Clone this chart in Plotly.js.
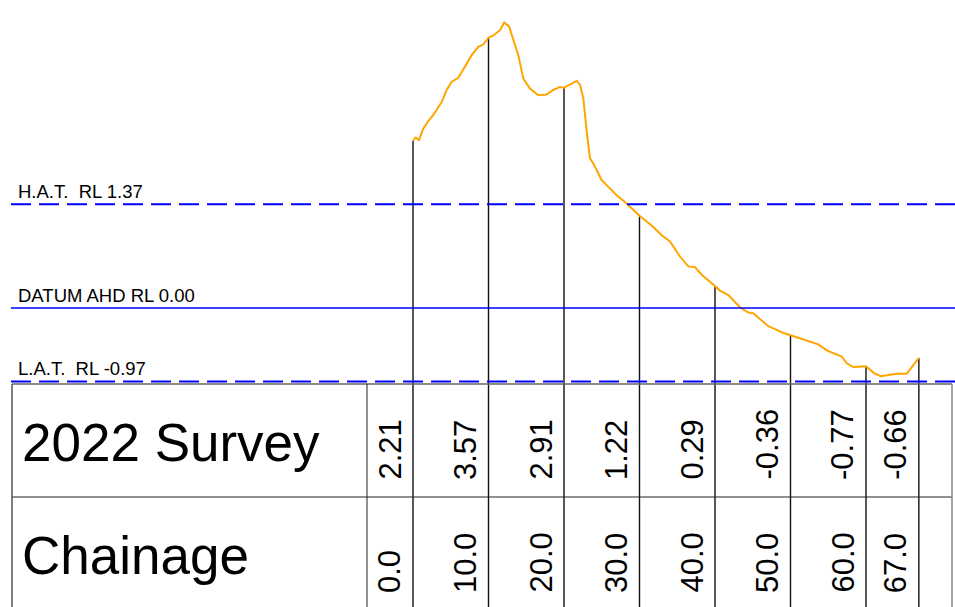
<!DOCTYPE html>
<html>
<head>
<meta charset="utf-8">
<script src="https://cdn.plot.ly/plotly-3.0.1.min.js"></script>
<style>html,body{margin:0;padding:0;background:#fff;}#chart{width:955px;height:607px;}</style>
</head>
<body>
<div id="chart"></div>
<script>
// ---- data ----
const chainage = [0, 10, 20, 30, 40, 50, 60, 67];
const surveyRL = [2.21, 3.57, 2.91, 1.22, 0.29, -0.36, -0.77, -0.66];
const chainageLabels = ['0.0', '10.0', '20.0', '30.0', '40.0', '50.0', '60.0', '67.0'];
const surveyLabels = ['2.21', '3.57', '2.91', '1.22', '0.29', '-0.36', '-0.77', '-0.66'];
const rowLabels = ['2022 Survey', 'Chainage'];

const profileX = [0, 0.36, 0.79, 1.36, 2.03, 2.69, 3.80, 4.46, 5.13, 6.00, 6.89, 7.77, 8.65, 9.31, 10,
  10.64, 11.52, 12.09, 12.72, 13.28, 13.95, 14.61, 15.50, 16.60, 17.71, 18.58, 19.47, 20,
  20.79, 21.68, 22.12, 22.56, 23.01, 23.44, 23.88, 24.99, 25.87, 26.98, 28.30, 30,
  31.83, 32.94, 34.04, 35.36, 36.46, 37.35, 38.24, 39.11, 40,
  40.66, 41.76, 43.31, 44.41, 45.07, 47.06, 48.17, 49.05, 50,
  51.48, 52.81, 53.68, 54.79, 56.12, 56.78, 57.44, 58.32, 60,
  61.06, 61.95, 62.95, 64.07, 65.39, 67];
const profileRL = [2.21, 2.25, 2.22, 2.37, 2.47, 2.55, 2.72, 2.88, 2.99, 3.04, 3.19, 3.34, 3.45, 3.48, 3.57,
  3.60, 3.67, 3.77, 3.72, 3.54, 3.34, 3.03, 2.90, 2.81, 2.82, 2.88, 2.92, 2.91,
  2.95, 3.00, 2.95, 2.77, 2.33, 1.98, 1.91, 1.69, 1.60, 1.49, 1.38, 1.22,
  1.07, 0.96, 0.88, 0.68, 0.55, 0.54, 0.44, 0.37, 0.29,
  0.23, 0.17, 0.01, -0.06, -0.07, -0.24, -0.29, -0.33, -0.36,
  -0.41, -0.46, -0.48, -0.56, -0.62, -0.64, -0.73, -0.78, -0.77,
  -0.86, -0.90, -0.89, -0.87, -0.87, -0.66];

const levelValues = [1.37, 0.00, -0.97];
const levelLabels = ['H.A.T.\u00a0\u00a0RL 1.37', 'DATUM AHD RL 0.00', 'L.A.T.\u00a0\u00a0RL -0.97'];

// ---- layout helpers (pixel geometry of the figure) ----
const W = 955, H = 607;
const px = v => v / W;          // paper x from pixel
const py = v => 1 - v / H;      // paper y from pixel
const FONT = 'Liberation Sans, Arial, sans-serif';

// vertical drop lines from the profile down through the table
const dropX = [], dropY = [];
chainage.forEach((c, i) => { dropX.push(c, c, null); dropY.push(surveyRL[i], -10, null); });

const traces = [
  { x: dropX, y: dropY, mode: 'lines', line: { color: '#111', width: 1.4 }, hoverinfo: 'skip' },
  { x: profileX, y: profileRL, mode: 'lines', line: { color: '#FFA500', width: 2 }, hoverinfo: 'skip' }
];

const shapes = [];
// tide / datum level lines
levelValues.forEach(v => {
  shapes.push({ type: 'line', xref: 'paper', yref: 'y', x0: px(11), x1: 1, y0: v, y1: v,
    line: { color: '#0000FF', width: v === 0 ? 1.6 : 2, dash: v === 0 ? 'solid' : '20px,8px' } });
});
// table frame
const tTop = 384, tMid = 497, tLeft = 12, tRight = 952, tCol = 367;
shapes.push({ type: 'line', xref: 'paper', yref: 'paper', x0: px(tLeft), x1: px(tRight), y0: py(tTop), y1: py(tTop), line: { color: '#666', width: 1.5 } });
shapes.push({ type: 'line', xref: 'paper', yref: 'paper', x0: px(tLeft), x1: px(tRight), y0: py(tMid), y1: py(tMid), line: { color: '#222', width: 1 } });
shapes.push({ type: 'line', xref: 'paper', yref: 'paper', x0: px(tLeft), x1: px(tLeft), y0: py(tTop), y1: 0, line: { color: '#555', width: 1.5 } });
shapes.push({ type: 'line', xref: 'paper', yref: 'paper', x0: px(tRight), x1: px(tRight), y0: py(tTop), y1: 0, line: { color: '#888', width: 1.5 } });
shapes.push({ type: 'line', xref: 'paper', yref: 'paper', x0: px(tCol), x1: px(tCol), y0: py(tTop), y1: 0, line: { color: '#222', width: 1 } });

const annotations = [];
levelValues.forEach((v, i) => {
  annotations.push({ xref: 'paper', yref: 'y', x: px(16), y: v, xanchor: 'left', yanchor: 'bottom',
    yshift: 0, text: levelLabels[i], showarrow: false, font: { family: FONT, size: 18.5, color: '#000' } });
});
rowLabels.forEach((t, i) => {
  annotations.push({ xref: 'paper', yref: 'paper', x: px(20), y: py(i === 0 ? 442 : 555), xanchor: 'left', yanchor: 'middle',
    text: t, showarrow: false, font: { family: FONT, size: 53, color: '#000' } });
});
chainage.forEach((c, i) => {
  annotations.push({ xref: 'x', yref: 'paper', x: c, y: py(482), xanchor: 'right', yanchor: 'bottom', xshift: -4,
    textangle: -90, text: surveyLabels[i], showarrow: false, font: { family: FONT, size: 31, color: '#000' } });
  annotations.push({ xref: 'x', yref: 'paper', x: c, y: py(595), xanchor: 'right', yanchor: 'bottom', xshift: -4,
    textangle: -90, text: chainageLabels[i], showarrow: false, font: { family: FONT, size: 31, color: '#000' } });
});

const layout = {
  width: W, height: H,
  margin: { l: 0, r: 0, t: 0, b: 0, pad: 0 },
  paper_bgcolor: '#fff', plot_bgcolor: '#fff',
  showlegend: false,
  xaxis: { range: [-413 / 7.55, (W - 413) / 7.55], visible: false, fixedrange: true },
  yaxis: { range: [-(H - 308) / 75.7, 308 / 75.7], visible: false, fixedrange: true },
  shapes: shapes,
  annotations: annotations
};

Plotly.newPlot('chart', traces, layout, { displayModeBar: false, staticPlot: true });
</script>
</body>
</html>
